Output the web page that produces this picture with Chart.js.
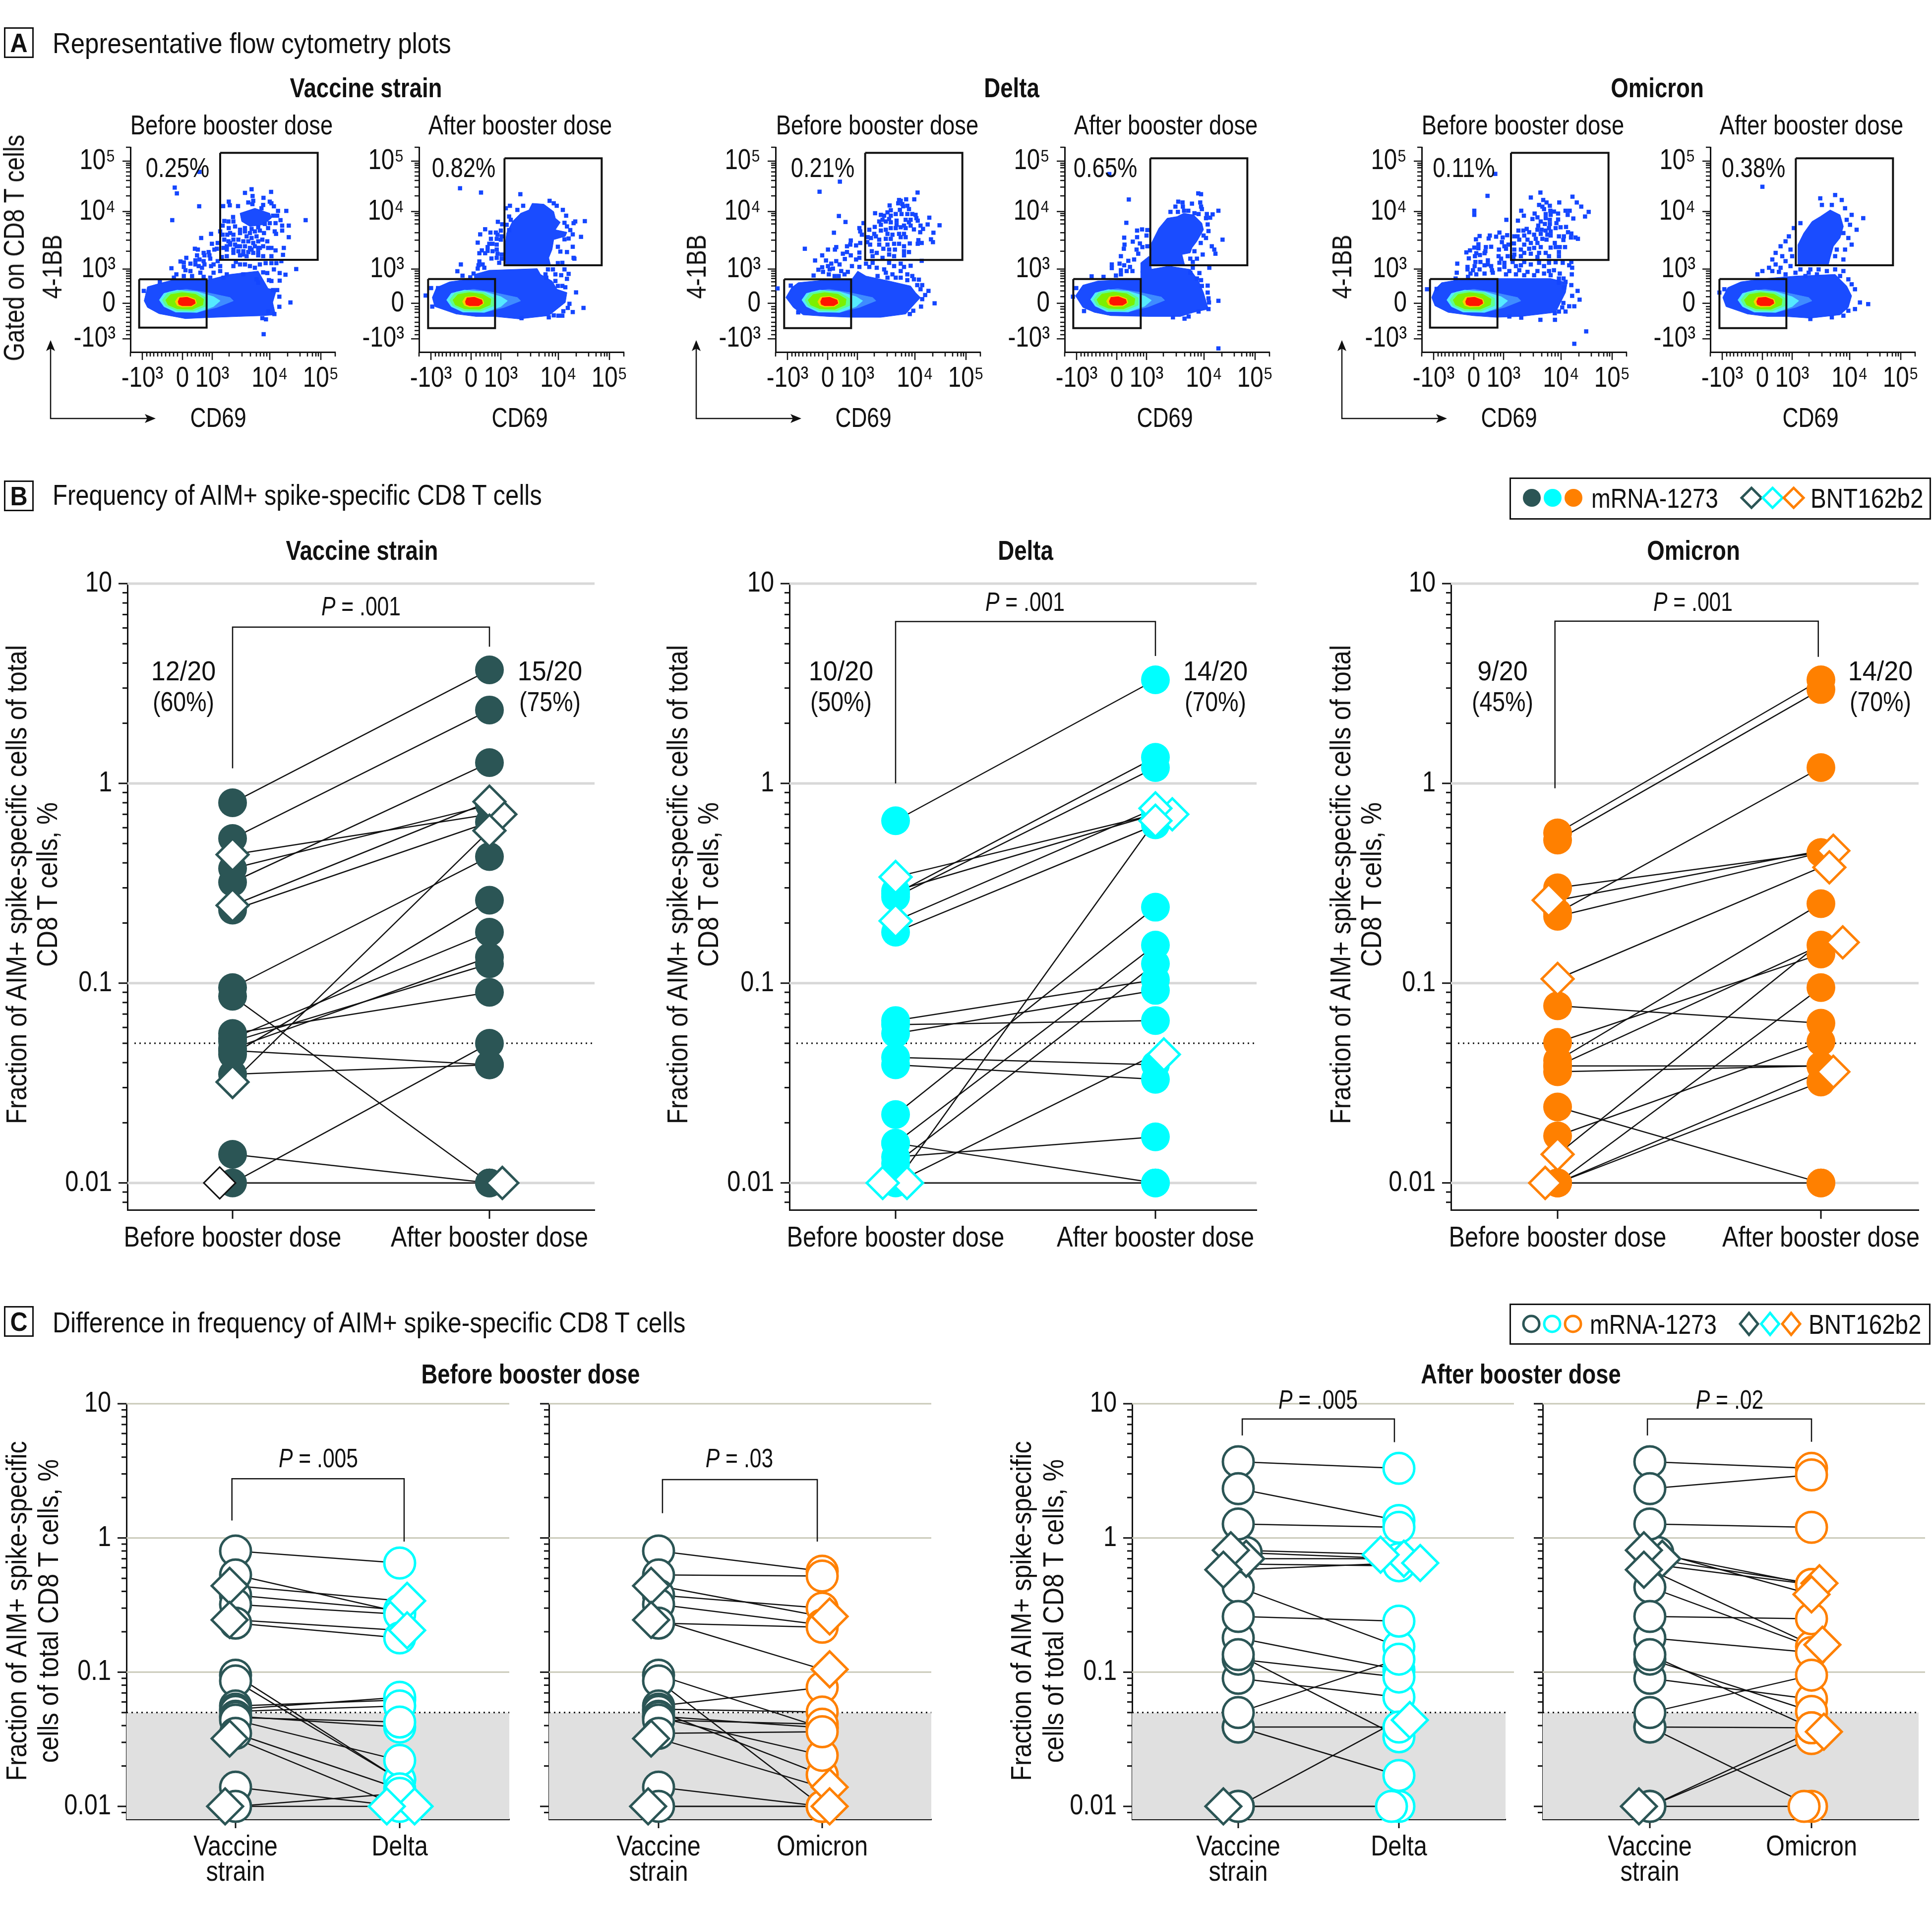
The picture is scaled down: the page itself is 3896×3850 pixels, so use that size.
<!DOCTYPE html>
<html>
<head>
<meta charset="utf-8">
<title>AIM+ spike-specific CD8 T cells</title>
<script src="https://cdn.jsdelivr.net/npm/chart.js@4/dist/chart.umd.min.js"></script>
<style>
  html, body { margin: 0; background: #fff; }
  #page { position: relative; width: 3896px; height: 3850px; overflow: hidden; }
  canvas { position: absolute; }
  svg { position: absolute; left: 0; top: 0; }
  .t { position: absolute; white-space: nowrap; line-height: 1; color: #111; font-family: "Liberation Sans", sans-serif; }
  .box { position: absolute; border: 3px solid #111; box-sizing: border-box; background: #fff; }
</style>
</head>
<body>
<div id="page"></div>
<script>
//DATA: one entry per participant, last four are BNT162b2
const vaccineBefore = [0.8, 0.53, 0.375, 0.32, 0.232, 0.095, 0.086, 0.056, 0.053, 0.051, 0.047, 0.046, 0.044, 0.035, 0.0139, 0.01, 0.44, 0.245, 0.032, 0.01];
const vaccineAfter = [3.7, 2.33, 0.78, 1.27, 0.64, 0.43, 0.01, 0.09, 0.18, 0.125, 0.135, 0.039, 0.26, 0.039, 0.01, 0.05, 0.7, 0.81, 0.58, 0.01];
const deltaBefore = [0.65, 0.28, 0.29, 0.27, 0.18, 0.0158, 0.0158, 0.062, 0.065, 0.056, 0.039, 0.0425, 0.022, 0.0135, 0.01, 0.0125, 0.34, 0.205, 0.01, 0.01];
const deltaAfter = [3.3, 1.35, 0.7, 1.2, 0.62, 0.155, 0.01, 0.065, 0.104, 0.092, 0.033, 0.039, 0.24, 0.017, 0.01, 0.125, 0.7, 0.75, 0.65, 0.044];
const omicronBefore = [0.565, 0.52, 0.3, 0.225, 0.216, 0.0385, 0.01, 0.077, 0.0505, 0.0172, 0.0385, 0.024, 0.041, 0.036, 0.01, 0.01, 0.26, 0.105, 0.0139, 0.01];
const omicronAfter = [3.3, 2.95, 0.45, 1.2, 0.45, 0.155, 0.032, 0.063, 0.14, 0.051, 0.0385, 0.01, 0.25, 0.0385, 0.01, 0.095, 0.46, 0.38, 0.16, 0.036];
const firstBnt = 16;
const cutoff = 0.05;
const decades = [0.01, 0.1, 1, 10];
const decadeLabels = ["0.01", "0.1", "1", "10"];
const boosterLabels = ["Before booster dose", "After booster dose"];

//FLOW PLOTS: x,y pairs
const flowXTicks = [72, 315, 495, 843, 1152];
const flowYTicks = [84, 389, 737, 944, 1159];
const flowXLabels = ["-10³", "0", "10³", "10⁴", "10⁵"];
const flowYLabels = ["10⁵", "10⁴", "10³", "0", "-10³"];
const flowXMinor = [0, 99, 120, 141, 165, 189, 213, 237, 261, 285, 345, 369, 393, 417, 441, 459, 477, 597, 675, 726, 762, 786, 807, 825, 951, 1026, 1071, 1101, 1122, 1137, 1239];
const flowYMinor = [0, 97, 109, 124, 149, 174, 201, 241, 294, 401, 414, 439, 464, 517, 562, 629, 749, 764, 779, 794, 814, 839, 869, 904, 964, 979, 999, 1029, 1059, 1084, 1109, 1134];

const coreHalo = [-160, -10, -105, -60, 0, -75, 125, -55, 265, -25, 285, -5, 185, 35, 65, 65, -65, 60, -135, 30];
const coreCyan = [-163, -10, -135, -50, -55, -70, 65, -60, 165, -30, 205, -5, 165, 30, 65, 65, -65, 63, -135, 30];
const coreGreen = [-145, -10, -115, -50, -35, -65, 65, -55, 125, -20, 125, 25, 45, 57, -55, 55, -125, 25];
const coreLime = [-125, -10, -95, -43, -25, -55, 55, -45, 105, -15, 100, 20, 35, 47, -55, 43, -110, 20];
const coreYellow = [-67, 0, -50, -27, 5, -33, 55, -15, 63, 10, 35, 30, -25, 33, -55, 23];
const coreRed = [-50, 0, -40, -23, 5, -27, 50, -10, 55, 10, 30, 25, -25, 25, -45, 17];

const blobVaccineBefore = [180,1010, 200,925, 290,900, 370,880, 560,885, 700,850, 870,830, 930,935, 980,945, 958,1020, 975,1095, 900,1100, 750,1105, 560,1112, 430,1118, 270,1088, 200,1050];
const clusterVaccineBefore = [760,480, 850,450, 940,480, 950,510, 900,550, 820,560, 770,530];
const dotsVaccineBefore = [365,325, 378,360, 513,438, 350,522, 1157,522, 903,1212, 515,230, 1100,818, 1065,1020, 1035,852, 830,335, 790,357, 948,351, 836,376, 902,387, 692,410, 698,432, 658,437, 748,437, 810,415, 840,405, 835,425, 940,410, 950,420, 965,438, 900,430, 890,450, 990,466, 1040,466, 960,495, 985,495, 1005,522, 1015,555, 1055,555, 1015,585, 970,590, 978,605, 1055,625, 1025,690, 1020,732, 975,705, 950,740, 655,555, 692,570, 718,503, 665,527, 690,530, 720,530, 730,560, 585,605, 655,610, 640,590, 683,610, 525,630, 590,665, 625,660, 605,700, 620,695, 487,695, 505,700, 570,715, 540,720, 545,735, 575,735, 580,755, 500,735, 435,750, 490,765, 400,772, 420,778, 460,785, 515,760, 540,770, 545,790, 490,790, 420,805, 510,800, 530,810, 345,813, 585,800, 600,790, 625,770, 640,800, 660,690, 680,680, 700,670, 740,680, 720,720, 680,740, 650,745, 760,735, 800,740, 830,700, 870,735, 900,740, 925,650, 950,690, 930,690, 870,690, 780,710, 735,775, 760,790, 790,790, 820,800, 850,810, 880,790, 915,782, 950,782, 980,782, 1010,770, 965,820, 1000,842, 925,842, 900,838, 950,890, 1000,888, 935,885, 860,880, 870,900, 430,825, 460,830, 520,840, 600,840, 640,830, 680,850, 720,800, 780,850, 470,860, 540,865, 375,850, 360,870, 420,860, 580,870, 660,870, 960,945, 985,945, 998,985, 998,1046, 930,1075, 895,1115, 917,1122, 968,1090, 178,950, 275,895, 700,600, 720,610, 760,600, 790,590, 820,600, 850,590, 880,585, 905,600, 930,570, 800,620, 830,630, 860,620, 720,640, 750,640, 780,650, 810,650, 840,660, 870,650, 895,640, 700,660, 730,670, 760,680, 790,680, 820,690, 850,680, 880,690, 900,680, 720,700, 750,710, 780,730, 810,715, 840,720, 870,715, 665,640, 690,650, 680,700, 760,580, 790,570, 830,575, 870,565, 910,545, 940,540, 975,540];

const blobVaccineAfter = [125,930, 150,870, 230,835, 380,815, 380,790, 470,765, 760,755, 780,790, 850,830, 880,880, 940,900, 930,960, 880,1000, 830,1040, 650,1060, 500,1045, 390,1045, 270,1030, 140,985];
const clusterVaccineAfter = [575,540, 610,470, 660,420, 710,400, 730,360, 800,365, 860,410, 870,450, 900,475, 870,520, 940,535, 930,560, 860,580, 850,640, 830,690, 840,730, 570,730, 565,620];
const dotsVaccineAfter = [293,269, 420,295, 658,305, 595,375, 675,375, 640,400, 570,390, 835,345, 860,360, 878,375, 915,400, 935,435, 590,440, 600,460, 522,472, 548,487, 575,490, 445,517, 590,522, 415,548, 477,537, 510,537, 520,550, 540,525, 400,598, 480,575, 470,605, 490,605, 515,575, 515,610, 540,580, 545,560, 460,625, 425,645, 460,648, 410,662, 445,662, 490,650, 515,640, 520,665, 545,670, 515,690, 483,694, 545,695, 530,720, 410,712, 405,735, 400,755, 430,730, 440,750, 298,730, 277,771, 308,798, 355,808, 375,785, 925,478, 940,500, 980,480, 990,470, 960,522, 975,548, 925,578, 950,573, 1025,563, 885,623, 975,623, 900,652, 940,655, 980,690, 985,695, 885,722, 912,720, 825,760, 855,760, 925,760, 950,787, 905,795, 940,817, 810,790, 870,790, 815,810, 870,830, 885,860, 912,860, 930,868, 995,899, 955,968, 945,993, 1040,993, 975,1018, 918,1013, 860,1038, 888,1040, 912,1040, 830,1050, 665,1055, 118,873, 160,873, 85,918, 125,985, 1048,468];

const blobDeltaBefore = [75,930, 110,870, 150,840, 300,825, 470,825, 510,770, 560,800, 700,830, 830,860, 860,900, 890,930, 840,985, 800,1030, 650,1050, 470,1050, 330,1045, 180,1035, 120,990];
const dotsDeltaBefore = [402,229, 279,290, 872,295, 760,340, 770,345, 803,336, 852,336, 755,360, 780,365, 785,378, 703,373, 810,375, 765,400, 820,395, 710,402, 690,415, 615,420, 650,430, 670,435, 710,435, 740,425, 775,425, 810,425, 840,425, 860,430, 865,450, 873,465, 800,460, 830,460, 700,455, 660,460, 640,470, 680,470, 710,475, 745,465, 820,475, 650,490, 745,490, 790,495, 830,495, 613,503, 890,495, 933,488, 943,447, 1005,493, 520,510, 525,530, 545,480, 580,520, 610,545, 650,525, 680,520, 710,510, 740,510, 770,505, 800,510, 850,518, 905,515, 888,535, 968,538, 535,550, 590,570, 570,565, 620,560, 690,545, 720,550, 760,545, 790,545, 800,565, 640,580, 680,575, 710,575, 770,565, 953,578, 965,595, 877,583, 873,605, 897,600, 825,603, 468,585, 568,595, 525,600, 500,615, 465,610, 445,620, 380,625, 372,640, 330,640, 190,635, 585,610, 640,610, 690,610, 730,605, 760,605, 790,620, 520,658, 445,655, 420,665, 295,675, 468,675, 595,650, 625,660, 665,635, 700,640, 735,640, 790,650, 820,655, 600,680, 700,670, 730,680, 790,675, 432,697, 252,706, 318,706, 380,710, 500,700, 520,690, 560,725, 600,720, 660,690, 700,720, 730,740, 770,725, 790,745, 830,738, 897,708, 350,725, 330,740, 400,730, 295,747, 475,740, 520,745, 580,745, 625,750, 670,760, 272,762, 300,775, 340,760, 360,755, 410,770, 450,775, 680,780, 720,790, 770,770, 810,790, 840,800, 850,820, 880,822, 243,797, 335,790, 370,800, 395,800, 430,790, 630,800, 690,810, 740,810, 770,810, 810,825, 870,855, 900,855, 890,880, 938,890, 918,915, 900,940, 975,965, 893,985, 846,1010, 825,1030, 105,858, 25,875, 150,1020, 396,437, 436,473, 366,538];

const blobDeltaAfter = [85,920, 130,855, 220,830, 330,825, 480,820, 480,770, 650,740, 780,760, 830,830, 860,900, 880,970, 890,1000, 800,1020, 720,1045, 520,1045, 300,1040, 200,1020, 130,990];
const clusterDeltaAfter = [545,600, 590,510, 640,450, 700,440, 740,420, 800,430, 850,480, 860,520, 820,590, 790,630, 780,660, 730,670, 745,730, 540,730];
const columnDeltaAfter = [480,720, 530,680, 550,780, 480,780];
const dotsDeltaAfter = [408,337, 393,478, 290,183, 828,300, 845,305, 707,350, 733,355, 790,362, 840,355, 690,380, 735,380, 845,380, 850,395, 660,412, 705,412, 742,405, 768,405, 880,425, 915,427, 950,405, 875,450, 900,447, 830,425, 805,420, 885,488, 890,528, 860,555, 875,570, 843,600, 975,580, 910,620, 925,640, 932,665, 855,670, 805,650, 780,695, 820,695, 795,715, 895,750, 795,750, 835,782, 780,780, 820,815, 845,825, 850,860, 885,858, 885,900, 890,935, 893,960, 950,950, 890,1000, 830,1015, 770,1045, 745,1058, 675,1050, 137,1012, 90,873, 70,925, 183,802, 255,805, 330,797, 360,790, 458,525, 488,518, 520,522, 515,555, 458,565, 380,568, 382,610, 432,592, 475,603, 490,625, 378,635, 455,640, 520,620, 465,665, 360,680, 440,700, 405,708, 305,730, 352,725, 305,752, 380,735, 415,745, 360,765, 395,770, 430,770, 950,1238];

const blobOmicronBefore = [80,930, 100,880, 140,840, 230,825, 480,815, 800,815, 900,840, 890,900, 860,960, 830,1020, 620,1045, 470,1050, 330,1040, 180,1020, 100,980];
const dotsOmicronBefore = [418,315, 738,295, 680,325, 932,320, 755,340, 775,355, 852,355, 958,355, 985,380, 730,370, 750,380, 795,375, 760,395, 622,405, 798,405, 820,410, 890,405, 915,405, 1030,412, 638,435, 703,422, 770,425, 800,430, 845,422, 903,430, 1008,440, 338,405, 338,430, 532,460, 602,465, 690,455, 720,445, 740,470, 770,450, 795,460, 845,458, 937,452, 765,485, 795,485, 835,480, 725,495, 893,503, 860,505, 830,510, 790,510, 720,520, 745,520, 770,525, 800,530, 655,515, 635,525, 605,525, 905,535, 925,543, 490,537, 537,553, 670,535, 700,550, 740,545, 780,550, 800,555, 600,560, 640,555, 370,558, 348,578, 432,555, 425,573, 470,562, 510,567, 580,560, 610,580, 660,580, 710,575, 750,575, 775,580, 850,560, 880,560, 877,582, 923,567, 950,567, 965,575, 505,595, 520,620, 545,610, 578,603, 640,610, 680,600, 720,600, 825,600, 363,608, 338,628, 363,632, 440,623, 408,625, 405,650, 487,640, 530,635, 580,640, 620,640, 670,635, 700,630, 740,625, 800,628, 830,625, 855,625, 887,625, 290,657, 312,645, 350,662, 372,673, 342,680, 400,662, 485,680, 500,695, 540,680, 580,670, 640,660, 680,665, 730,660, 770,660, 850,655, 305,693, 420,705, 575,685, 620,680, 720,685, 790,680, 850,680, 235,725, 345,715, 375,715, 420,730, 490,720, 520,720, 570,715, 640,715, 730,720, 790,720, 830,717, 873,720, 925,715, 297,745, 340,740, 400,735, 440,740, 520,745, 590,740, 620,735, 680,730, 760,740, 912,735, 930,750, 232,780, 297,760, 330,765, 370,760, 445,765, 490,760, 550,770, 610,765, 660,775, 720,770, 790,770, 820,765, 315,785, 350,790, 400,785, 450,780, 530,790, 590,790, 640,795, 700,795, 760,785, 800,795, 855,785, 928,790, 300,805, 225,815, 850,815, 878,815, 850,840, 890,835, 925,855, 880,870, 963,890, 930,920, 975,943, 877,963, 912,983, 943,983, 870,990, 850,1015, 890,1015, 825,1025, 738,1065, 826,1065, 622,1052, 550,1045, 1015,1135, 943,1210, 52,880, 110,878, 465,182];

const blobOmicronAfter = [120,930, 150,870, 230,835, 380,815, 560,800, 800,790, 870,860, 900,920, 880,990, 830,1035, 650,1055, 500,1045, 390,1045, 270,1030, 140,985];
const clusterOmicronAfter = [575,730, 575,610, 610,540, 660,470, 710,440, 770,400, 830,430, 850,500, 830,570, 790,620, 770,690, 760,730];
const dotsOmicronAfter = [360,260, 710,330, 800,310, 840,340, 720,370, 780,370, 860,390, 900,430, 870,460, 890,490, 930,520, 850,540, 880,570, 900,610, 860,640, 810,640, 800,680, 850,700, 970,450, 590,480, 550,510, 520,560, 500,590, 470,620, 530,640, 440,660, 480,680, 540,680, 420,700, 500,710, 440,730, 400,750, 470,750, 530,740, 360,770, 420,770, 460,775, 330,790, 800,760, 850,770, 830,800, 880,820, 900,850, 920,880, 950,960, 920,1000, 880,1010, 850,1040, 780,1050, 650,1060, 1000,970, 130,880, 100,900, 590,760, 650,760, 700,760, 750,770, 640,780, 690,790, 560,780, 500,790, 620,800];

//COLORS
const DARK = "#2b5555";
const CYAN = "#00ffff";
const ORANGE = "#ff8000";
const INK = "#111111";
const FONT = '"Liberation Sans", sans-serif';
const page = document.getElementById("page");

//HELPERS
function addText(html, cx, cy, size, opts) {
  opts = opts || {};
  const d = document.createElement("div");
  d.className = "t";
  d.innerHTML = html;
  d.style.left = cx + "px";
  d.style.top = cy + "px";
  d.style.fontSize = size + "px";
  if (opts.bold) d.style.fontWeight = "bold";
  const anchor = opts.left ? "0" : "-50%";
  if (opts.left) d.style.transformOrigin = "0 50%";
  d.style.transform = "translate(" + anchor + ",-50%)" + (opts.rot ? " rotate(-90deg)" : "") + " scaleX(" + (opts.sx || 0.82) + ")";
  page.appendChild(d);
}

function addBox(x, y, w, h) {
  const d = document.createElement("div");
  d.className = "box";
  d.style.cssText = "left:" + x + "px;top:" + y + "px;width:" + w + "px;height:" + h + "px";
  page.appendChild(d);
}

// the reference uses a condensed face, none is installed, so tick labels are squeezed
function newCanvas(x, y, w, h, squeeze) {
  const c = document.createElement("canvas");
  c.width = w;
  c.height = h;
  c.style.left = x + "px";
  c.style.top = y + "px";
  page.appendChild(c);
  const ctx = c.getContext("2d");
  const fillText = ctx.fillText.bind(ctx);
  ctx.fillText = (t, tx, ty) => {
    ctx.save();
    ctx.translate(tx, ty);
    ctx.scale(squeeze, 1);
    fillText(t, 0, 0);
    ctx.restore();
  };
  return c;
}

function toPoints(flat, dx, dy) {
  const out = [];
  for (let i = 0; i < flat.length; i += 2) out.push({ x: flat[i] + (dx || 0), y: flat[i + 1] + (dy || 0) });
  return out;
}

function closed(flat, dx, dy) {
  const pts = toPoints(flat, dx, dy);
  pts.push(pts[0]);
  return pts;
}

function noPadding(s) {
  s.paddingLeft = 0;
  s.paddingRight = 0;
  s.paddingTop = 0;
  s.paddingBottom = 0;
}

function tickLines(ctx, chart, o) {
  const xs = chart.scales.x, ys = chart.scales.y;
  const bottom = chart.chartArea.bottom, left = chart.chartArea.left;
  ctx.save();
  ctx.strokeStyle = INK;
  ctx.lineWidth = o.width;
  const one = (x1, y1, x2, y2) => { ctx.beginPath(); ctx.moveTo(x1, y1); ctx.lineTo(x2, y2); ctx.stroke(); };
  o.yMajor.forEach((v) => { const p = ys.getPixelForValue(v); one(left, p, left - o.major, p); });
  o.yMinor.forEach((v) => { const p = ys.getPixelForValue(v); one(left, p, left - o.minor, p); });
  o.xMajor.forEach((v) => { const p = xs.getPixelForValue(v); one(p, bottom, p, bottom + o.major); });
  o.xMinor.forEach((v) => { const p = xs.getPixelForValue(v); one(p, bottom, p, bottom + o.minor); });
  ctx.restore();
}

//PANELS B AND C
const L = 250, TOP = 40, RIGHT = 60;

function pairPanel(cfg) {
  const boxW = cfg.right - cfg.left, boxH = cfg.bottom - cfg.top;
  const unit = cfg.x1 - cfg.x0;
  const yMin = cfg.yMin;
  const hollow = cfg.hollow;
  const H = 170;
  const canvas = newCanvas(cfg.left - L, cfg.top - TOP, L + boxW + RIGHT, TOP + boxH + H, 0.84);

  const datasets = [];
  cfg.a.forEach((v, i) => {
    datasets.push({ data: [{ x: 0, y: v }, { x: 1, y: cfg.b[i] }], showLine: true, borderColor: INK, borderWidth: 2.5, pointRadius: 0, clip: false });
  });
  const marks = (vals, x, color, dodge, from, to, style, radius) => {
    const data = [];
    for (let i = from; i < to; i++) data.push({ x: x + (dodge[i] || 0) / unit, y: vals[i] });
    const thin = cfg.thinIndex !== undefined && x === 0 && style === "rectRot";
    datasets.push({
      data: data,
      pointStyle: style,
      pointRadius: radius,
      pointBackgroundColor: style === "circle" && !hollow ? color : "#ffffff",
      pointBorderColor: data.map((d, k) => (thin && k + from === cfg.thinIndex ? INK : color)),
      pointBorderWidth: data.map((d, k) => (thin && k + from === cfg.thinIndex ? 3 : style === "circle" && !hollow ? 0 : 5)),
      clip: false,
    });
  };
  const circleR = hollow ? 31 : 29;
  const diamondR = hollow ? 36 : 32;
  marks(cfg.a, 0, cfg.colorA, cfg.dodgeA, 0, firstBnt, "circle", circleR);
  marks(cfg.b, 1, cfg.colorB, cfg.dodgeB, 0, firstBnt, "circle", circleR);
  marks(cfg.a, 0, cfg.colorA, cfg.dodgeA, firstBnt, cfg.a.length, "rectRot", diamondR);
  marks(cfg.b, 1, cfg.colorB, cfg.dodgeB, firstBnt, cfg.a.length, "rectRot", diamondR);
  datasets.push({ data: cfg.bracket, showLine: true, borderColor: INK, borderWidth: 2.5, pointRadius: 0, clip: false });
  datasets.forEach((d, i) => { d.order = -i; });

  const minor = [];
  [0.001, 0.01, 0.1, 1].forEach((d) => {
    [2, 3, 4, 5, 6, 7, 8, 9].forEach((m) => { if (d * m > yMin) minor.push(d * m); });
  });
  const backdrop = {
    id: "backdrop",
    beforeDatasetsDraw(chart) {
      const ctx = chart.ctx, a = chart.chartArea, ys = chart.scales.y;
      ctx.save();
      if (cfg.band) {
        ctx.fillStyle = "#e0e0e0";
        const y = ys.getPixelForValue(cutoff);
        ctx.fillRect(a.left, y, a.right - a.left, a.bottom - y);
      }
      ctx.strokeStyle = cfg.gridColor;
      ctx.lineWidth = cfg.gridWidth;
      decades.forEach((v) => {
        if (cfg.band && v < cutoff) return;
        const y = ys.getPixelForValue(v);
        ctx.beginPath();
        ctx.moveTo(a.left, y);
        ctx.lineTo(a.right + (cfg.gridExtra || 0), y);
        ctx.stroke();
      });
      const y = ys.getPixelForValue(cutoff);
      ctx.strokeStyle = INK;
      ctx.lineWidth = 3;
      ctx.setLineDash([3, 7]);
      ctx.beginPath();
      ctx.moveTo(a.left + (cfg.band ? 0 : 14), y);
      ctx.lineTo(a.right, y);
      ctx.stroke();
      ctx.restore();
      tickLines(ctx, chart, { yMajor: decades, yMinor: minor, xMajor: [0, 1], xMinor: [], major: 18, minor: 10, width: 3 });
    },
  };

  new Chart(canvas, {
    type: "scatter",
    data: { datasets: datasets },
    plugins: [backdrop],
    options: {
      responsive: false,
      animation: false,
      devicePixelRatio: 1,
      layout: { padding: { left: 0, top: TOP, right: RIGHT, bottom: 0 } },
      plugins: { legend: { display: false }, tooltip: { enabled: false } },
      scales: {
        x: {
          type: "linear",
          min: -(cfg.x0 - cfg.left) / unit,
          max: 1 + (cfg.right - cfg.x1) / unit,
          afterFit: (s) => { s.height = H; noPadding(s); },
          afterBuildTicks: (s) => { s.ticks = [{ value: 0 }, { value: 1 }]; },
          grid: { display: false },
          border: { display: true, color: INK, width: 3 },
          ticks: {
            autoSkip: false,
            maxRotation: 0,
            padding: cfg.xPad,
            color: INK,
            font: { family: FONT, size: 58, lineHeight: 0.88 },
            callback: (v, i) => cfg.xLabels[i],
          },
        },
        y: {
          type: "logarithmic",
          min: yMin,
          max: 10,
          afterFit: (s) => { s.width = L; noPadding(s); },
          afterBuildTicks: (s) => { s.ticks = decades.map((v) => ({ value: v })); },
          grid: { display: false },
          border: { display: true, color: INK, width: 3 },
          ticks: {
            autoSkip: false,
            padding: 23,
            color: INK,
            font: { family: FONT, size: 58 },
            callback: (v, i) => (cfg.noYLabels ? "" : decadeLabels[i]),
          },
        },
      },
    },
  });
}

const boxB = { top: 1177, bottom: 2440, yMin: 0.00733, gridColor: "#d8d8d8", gridWidth: 5, xLabels: boosterLabels, xPad: 24 };
const boxC = { top: 2830, bottom: 3669, yMin: 0.00802, gridColor: "#c9c9b8", gridWidth: 3, band: true, hollow: true, xPad: 23 };
const vaccineDelta = [["Vaccine", "strain"], "Delta"];
const vaccineOmicron = [["Vaccine", "strain"], "Omicron"];

pairPanel(Object.assign({}, boxB, {
  left: 257, right: 1199, x0: 469, x1: 987, a: vaccineBefore, b: vaccineAfter, colorA: DARK, colorB: DARK,
  dodgeA: { 19: -26 }, dodgeB: { 16: 22, 19: 26 }, thinIndex: 19,
  bracket: [{ x: 0, y: 1.19 }, { x: 0, y: 6.06 }, { x: 1, y: 6.06 }, { x: 1, y: 4.83 }],
}));
pairPanel(Object.assign({}, boxB, {
  left: 1592, right: 2534, x0: 1806, x1: 2330, a: deltaBefore, b: deltaAfter, colorA: CYAN, colorB: CYAN,
  dodgeA: { 18: 23, 19: -26 }, dodgeB: { 16: 34, 19: 17 },
  bracket: [{ x: 0, y: 1.0 }, { x: 0, y: 6.46 }, { x: 1, y: 6.46 }, { x: 1, y: 4.34 }],
}));
pairPanel(Object.assign({}, boxB, {
  left: 2926, right: 3869, x0: 3141, x1: 3672, a: omicronBefore, b: omicronAfter, colorA: ORANGE, colorB: ORANGE,
  dodgeA: { 16: -18, 19: -25 }, dodgeB: { 16: 25, 17: 17, 18: 44, 19: 25 },
  bracket: [{ x: -0.01, y: 0.945 }, { x: -0.01, y: 6.49 }, { x: 0.99, y: 6.49 }, { x: 0.99, y: 4.3 }],
}));
pairPanel(Object.assign({}, boxC, {
  left: 255, right: 1027, x0: 475, x1: 806, a: vaccineBefore, b: deltaBefore, colorA: DARK, colorB: CYAN, xLabels: vaccineDelta,
  dodgeA: { 16: -12, 17: -12, 18: -12, 19: -21 }, dodgeB: { 16: 15, 17: 15, 18: 30, 19: -26 },
  bracket: [{ x: -0.022, y: 1.35 }, { x: -0.022, y: 2.76 }, { x: 1.027, y: 2.76 }, { x: 1.027, y: 0.94 }],
}));
pairPanel(Object.assign({}, boxC, {
  left: 1107, right: 1878, x0: 1328, x1: 1658, a: vaccineBefore, b: omicronBefore, colorA: DARK, colorB: ORANGE, xLabels: vaccineOmicron, noYLabels: true,
  dodgeA: { 16: -15, 17: -15, 18: -15, 19: -21 }, dodgeB: { 16: 15, 17: 15, 18: 15, 19: 15 },
  bracket: [{ x: 0.024, y: 1.53 }, { x: 0.024, y: 2.72 }, { x: 0.97, y: 2.72 }, { x: 0.97, y: 0.94 }],
}));
pairPanel(Object.assign({}, boxC, {
  left: 2283, right: 3036, x0: 2497, x1: 2821, a: vaccineAfter, b: deltaAfter, colorA: DARK, colorB: CYAN, xLabels: vaccineDelta, gridExtra: 17,
  dodgeA: { 2: 16, 16: 16, 17: -15, 18: -30, 19: -30 }, dodgeB: { 14: -15, 16: 10, 17: -37, 18: 43, 19: 22 },
  bracket: [{ x: 0.025, y: 5.8 }, { x: 0.025, y: 7.7 }, { x: 0.972, y: 7.7 }, { x: 0.972, y: 5.17 }],
}));
pairPanel(Object.assign({}, boxC, {
  left: 3111, right: 3869, x0: 3327, x1: 3653, a: vaccineAfter, b: omicronAfter, colorA: DARK, colorB: ORANGE, xLabels: vaccineOmicron, noYLabels: true, gridExtra: 13,
  dodgeA: { 2: 16, 16: 25, 17: -12, 18: -12, 19: -22 }, dodgeB: { 14: -15, 16: 16, 18: 22, 19: 25 },
  bracket: [{ x: -0.015, y: 5.8 }, { x: -0.015, y: 7.7 }, { x: 1, y: 7.7 }, { x: 1, y: 5.2 }],
}));

//PANEL A
function flowPlot(cfg) {
  const size = 413, H = 100;
  const canvas = newCanvas(cfg.left - L, 297 - TOP, L + size + RIGHT, TOP + size + H, 0.82);
  const poly = (flat, color, dx, dy) => ({ data: closed(flat, dx, dy), showLine: true, fill: "shape", backgroundColor: color, borderColor: color, borderWidth: 1, pointRadius: 0 });
  const gate = (x1, y1, x2, y2) => ({ data: closed([x1, y1, x2, y1, x2, y2, x1, y2]), showLine: true, borderColor: INK, borderWidth: 4, pointRadius: 0 });
  const datasets = [poly(cfg.blob, "#1a4cff")];
  (cfg.clusters || []).forEach((c) => datasets.push(poly(c, "#1a4cff")));
  datasets.push({ data: toPoints(cfg.dots), pointStyle: "rect", pointRadius: 6, pointBackgroundColor: "#1446ff", pointBorderWidth: 0 });
  const [cx, cy] = cfg.core;
  datasets.push(poly(coreHalo, "#3f8cff", cx, cy));
  datasets.push(poly(coreCyan, "#55eaff", cx, cy));
  datasets.push(poly(coreGreen, "#5cff90", cx, cy));
  datasets.push(poly(coreLime, "#7cf000", cx, cy));
  datasets.push(poly(coreYellow, "#ffd000", cx, cy));
  datasets.push(poly(coreRed, "#ff1500", cx, cy));
  cfg.gates.forEach((g) => datasets.push(gate(g[0], g[1], g[2], g[3])));
  datasets.forEach((d, i) => { d.order = -i; });

  const xRel = (v) => cfg.ax + v, yRel = (v) => cfg.top + v;
  const marks = {
    id: "marks",
    afterDatasetsDraw(chart) {
      tickLines(chart.ctx, chart, {
        yMajor: flowYTicks.map(yRel), yMinor: flowYMinor.map(yRel),
        xMajor: flowXTicks.map(xRel), xMinor: flowXMinor.map(xRel),
        major: 16, minor: 9, width: 2.5,
      });
    },
  };
  new Chart(canvas, {
    type: "scatter",
    data: { datasets: datasets },
    plugins: [marks],
    options: {
      responsive: false,
      animation: false,
      devicePixelRatio: 1,
      layout: { padding: { left: 0, top: TOP, right: RIGHT, bottom: 0 } },
      plugins: { legend: { display: false }, tooltip: { enabled: false } },
      scales: {
        x: {
          type: "linear",
          min: cfg.ax,
          max: cfg.ax + 1239,
          afterFit: (s) => { s.height = H; noPadding(s); },
          afterBuildTicks: (s) => { s.ticks = flowXTicks.map((v) => ({ value: xRel(v) })); },
          grid: { display: false },
          border: { display: true, color: INK, width: 3 },
          ticks: { autoSkip: false, maxRotation: 0, padding: 11, color: INK, font: { family: FONT, size: 58 }, callback: (v, i) => flowXLabels[i] },
        },
        y: {
          type: "linear",
          reverse: true,
          min: cfg.top,
          max: cfg.top + 1239,
          afterFit: (s) => { s.width = L; noPadding(s); },
          afterBuildTicks: (s) => { s.ticks = flowYTicks.map((v) => ({ value: yRel(v) })); },
          grid: { display: false },
          border: { display: true, color: INK, width: 3 },
          ticks: { autoSkip: false, padding: 22, color: INK, font: { family: FONT, size: 58 }, callback: (v, i) => flowYLabels[i] },
        },
      },
    },
  });
}

flowPlot({ left: 263, ax: 97, top: 81, blob: blobVaccineBefore, clusters: [clusterVaccineBefore], dots: dotsVaccineBefore, core: [435, 1015], gates: [[640, 115, 1230, 762], [150, 880, 558, 1172]] });
flowPlot({ left: 845, ax: 45, top: 21, blob: blobVaccineAfter, clusters: [clusterVaccineAfter], dots: dotsVaccineAfter, core: [375, 955], gates: [[562, 88, 1150, 735], [100, 818, 505, 1115]] });
flowPlot({ left: 1564, ax: 13, top: 21, blob: blobDeltaBefore, dots: dotsDeltaBefore, core: [335, 955], gates: [[555, 55, 1143, 703], [65, 820, 470, 1115]] });
flowPlot({ left: 2147, ax: 20, top: 21, blob: blobDeltaAfter, clusters: [clusterDeltaAfter, columnDeltaAfter], dots: dotsDeltaAfter, core: [340, 952], gates: [[538, 88, 1125, 735], [72, 818, 480, 1115]] });
flowPlot({ left: 2867, ax: 20, top: 21, blob: blobOmicronBefore, dots: dotsOmicronBefore, core: [335, 955], gates: [[560, 55, 1150, 703], [70, 818, 478, 1112]] });
flowPlot({ left: 3449, ax: 45, top: 21, blob: blobOmicronAfter, clusters: [clusterOmicronAfter], dots: dotsOmicronAfter, core: [375, 955], gates: [[562, 88, 1150, 735], [100, 818, 505, 1115]] });

//TEXT
[["A", 8, 55, 85], ["B", 8, 969, 999], ["C", 8, 2634, 2664]].forEach((b) => {
  addBox(b[1], b[2], 60, 62);
  addText(b[0], 38, b[3] + 1, 54, { bold: true, sx: 0.9 });
});
addText("Representative flow cytometry plots", 106, 87, 58, { left: true, sx: 0.878 });
addText("Frequency of AIM+ spike-specific CD8 T cells", 106, 998, 58, { left: true, sx: 0.846 });
addText("Difference in frequency of AIM+ spike-specific CD8 T cells", 106, 2667, 58, { left: true, sx: 0.858 });

[["Vaccine strain", 738], ["Delta", 2040], ["Omicron", 3342]].forEach((t) => addText(t[0], t[1], 177, 56, { bold: true, sx: 0.815 }));
[[467, 0], [1049, 1], [1769, 0], [2351, 1], [3071, 0], [3653, 1]].forEach((t) => addText(boosterLabels[t[1]], t[0], 252, 56, { sx: 0.81 }));
[[440, 842], [1048, 842], [1741, 842], [2349, 842], [3043, 842], [3651, 842]].forEach((t) => addText("CD69", t[0], t[1], 56, { sx: 0.79 }));
[["0.25%", 358], ["0.82%", 935], ["0.21%", 1659], ["0.65%", 2229], ["0.11%", 2952], ["0.38%", 3536]].forEach((t) => addText(t[0], t[1], 338, 56, { sx: 0.81 }));
addText("Gated on CD8 T cells", 28, 500, 58, { rot: true, sx: 0.827 });
[105, 1404, 2706].forEach((x) => addText("4-1BB", x, 538, 56, { rot: true, sx: 0.83 }));

[["Vaccine strain", 730], ["Delta", 2068], ["Omicron", 3415]].forEach((t) => addText(t[0], t[1], 1110, 56, { bold: true, sx: 0.815 }));
[[33, 95], [1366, 1428], [2703, 2765]].forEach((x) => {
  addText("Fraction of AIM+ spike-specific cells of total", x[0], 1784, 58, { rot: true, sx: 0.87 });
  addText("CD8 T cells, %", x[1], 1784, 58, { rot: true, sx: 0.87 });
});
[["12/20", "(60%)", 370], ["15/20", "(75%)", 1109], ["10/20", "(50%)", 1696], ["14/20", "(70%)", 2451], ["9/20", "(45%)", 3030], ["14/20", "(70%)", 3792]].forEach((t) => {
  addText(t[0], t[2], 1353, 56, { sx: 0.93 });
  addText(t[1], t[2], 1415, 56, { sx: 0.83 });
});
[[".001", 728, 1222], [".001", 2067, 1213], [".001", 3414, 1213], [".005", 642, 2940], [".03", 1491, 2940], [".005", 2658, 2822], [".02", 3488, 2822]].forEach((t) => {
  addText("<i>P</i> = " + t[0], t[1], t[2], 54, { sx: 0.79 });
});

addText("Before booster dose", 1070, 2771, 56, { bold: true, sx: 0.81 });
addText("After booster dose", 3067, 2771, 56, { bold: true, sx: 0.81 });
[[33, 97], [2059, 2124]].forEach((x) => {
  addText("Fraction of AIM+ spike-specific", x[0], 3249, 58, { rot: true, sx: 0.87 });
  addText("cells of total CD8 T cells, %", x[1], 3249, 58, { rot: true, sx: 0.87 });
});

//LEGENDS AND ARROWS
addBox(3044, 963, 850, 85);
addBox(3044, 2629, 849, 83);
addText("mRNA-1273", 3209, 1005, 56, { left: true, sx: 0.83 });
addText("BNT162b2", 3651, 1005, 56, { left: true, sx: 0.85 });
addText("mRNA-1273", 3206, 2671, 56, { left: true, sx: 0.83 });
addText("BNT162b2", 3647, 2671, 56, { left: true, sx: 0.85 });

const legendColors = [DARK, CYAN, ORANGE];
let svg = '<svg xmlns="http://www.w3.org/2000/svg" width="3896" height="3850" fill="none">';
legendColors.forEach((c, i) => {
  svg += '<circle cx="' + (3089 + i * 42) + '" cy="1004" r="18" fill="' + c + '"/>';
  let x = 3532 + i * 42.5;
  svg += '<path d="M' + (x - 20) + ' 1004L' + x + ' 984L' + (x + 20) + ' 1004L' + x + ' 1024Z" stroke="' + c + '" stroke-width="5"/>';
  svg += '<circle cx="' + (3088 + i * 42) + '" cy="2670" r="16" stroke="' + c + '" stroke-width="5"/>';
  x = 3527 + i * 42.5;
  svg += '<path d="M' + (x - 18) + ' 2670L' + x + ' 2648L' + (x + 18) + ' 2670L' + x + ' 2692Z" stroke="' + c + '" stroke-width="5"/>';
});
[102, 1404, 2706].forEach((x) => {
  svg += '<path d="M' + x + ' 689V844H' + (x + 205) + '" stroke="#111" stroke-width="2.5"/>';
  svg += '<path d="M' + (x - 9) + ' 708L' + x + ' 686L' + (x + 9) + ' 708L' + x + ' 703Z" fill="#111"/>';
  svg += '<path d="M' + (x + 190) + ' 835L' + (x + 212) + ' 844L' + (x + 190) + ' 853L' + (x + 195) + ' 844Z" fill="#111"/>';
});
svg += "</svg>";
page.insertAdjacentHTML("beforeend", svg);
</script>
</body>
</html>
